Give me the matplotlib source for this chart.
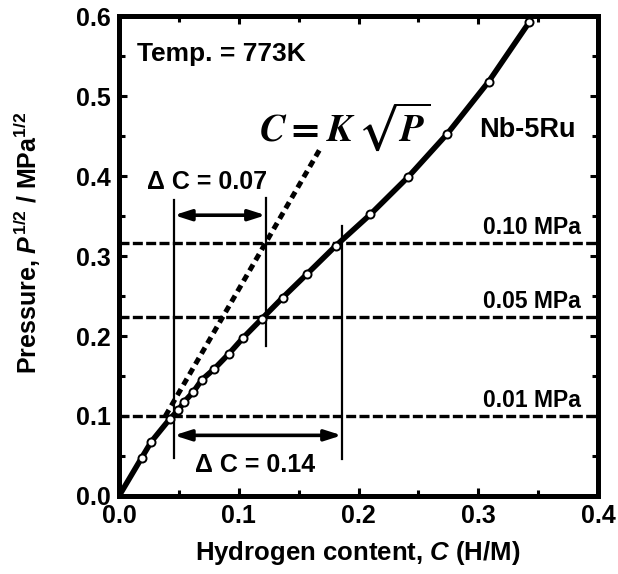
import numpy as np
import matplotlib
matplotlib.use("Agg")
import matplotlib.pyplot as plt

plt.rcParams['font.family'] = ['Liberation Sans', 'DejaVu Sans']
plt.rcParams['font.weight'] = 'bold'
plt.rcParams['mathtext.fontset'] = 'custom'
plt.rcParams['mathtext.rm'] = 'Liberation Sans:bold'
plt.rcParams['mathtext.it'] = 'Liberation Sans:italic:bold'
plt.rcParams['mathtext.bf'] = 'Liberation Sans:bold'
plt.rcParams['mathtext.sf'] = 'Liberation Sans:italic:bold'

# measured isotherm, Nb-5Ru at 773 K
conc = [0.0, 0.019, 0.027, 0.0426, 0.0496, 0.0546, 0.062, 0.069, 0.0796, 0.0916,
        0.1038, 0.1194, 0.1367, 0.157, 0.1812, 0.2099, 0.2416, 0.2743, 0.3087, 0.3427]
sqrt_p = [0.0, 0.048, 0.068, 0.0967, 0.1075, 0.118, 0.130, 0.145, 0.159, 0.1775,
          0.198, 0.2217, 0.248, 0.2775, 0.313, 0.352, 0.399, 0.453, 0.518, 0.5925]

# Sieverts' law line C = K sqrt(P)
K = 0.387
sieverts_y = [0.1, 0.435]

# reference pressures (MPa)
pressures = [0.01, 0.05, 0.10]
press_labels = ['0.01 MPa', '0.05 MPa', '0.10 MPa']

# vertical markers: C value, y from, y to
vlines_c = [0.046, 0.1225, 0.186]
vlines_lo = [0.047, 0.187, 0.046]
vlines_hi = [0.37, 0.3725, 0.338]

# delta C arrows
arrow_from = [0.046, 0.046]
arrow_to = [0.1225, 0.186]
arrow_y = [0.351, 0.0758]
arrow_text = ['\u0394 C = 0.07', '\u0394 C = 0.14']
arrow_text_pos = [(0.0735, 0.3925), (0.114, 0.039)]

fig = plt.figure(figsize=(6.18, 5.74), dpi=100)
ax = fig.add_axes([0.1926, 0.1359, 0.7750, 0.8362])

for p, lab in zip(pressures, press_labels):
    y = np.sqrt(p)
    ax.axhline(y, color='black', lw=2.4, dashes=(3, 1), zorder=2)
    ax.text(0.386, y + 0.005, lab, ha='right', va='bottom', fontsize=16.5, fontweight='bold')

ys = np.array(sieverts_y)
ax.plot(K * ys, ys, color='black', lw=3.6, dashes=(1.4, 1.0), zorder=3)

for c, lo, hi in zip(vlines_c, vlines_lo, vlines_hi):
    ax.plot([c, c], [lo, hi], color='black', lw=1.6, zorder=3)

for a, b, y, t, pos in zip(arrow_from, arrow_to, arrow_y, arrow_text, arrow_text_pos):
    ax.annotate('', xy=(b, y), xytext=(a, y),
                arrowprops=dict(arrowstyle='<|-|>,head_length=1.0,head_width=0.32',
                                color='black', lw=2.6, shrinkA=0, shrinkB=0))
    ax.text(pos[0], pos[1], t, ha='center', va='center', fontsize=18, fontweight='bold')

ax.plot(conc, sqrt_p, color='black', lw=4, zorder=4)
ax.plot(conc[1:], sqrt_p[1:], 'o', ms=5.8, mfc='white', mec='black', mew=1.4, zorder=5)

ax.text(0.015, 0.553, 'Temp. = 773K', ha='left', va='center', fontsize=19, fontweight='bold')
ax.text(0.301, 0.4575, 'Nb-5Ru', ha='left', va='center', fontsize=19.5, fontweight='bold')
ax.text(0.117, 0.462, r'$\mathbfit{C} = \mathbfit{K}\,\sqrt{\mathbfit{P}}$', ha='left', va='center',
        fontsize=28, math_fontfamily='stix')

ax.set_xlim(0, 0.4)
ax.set_ylim(0, 0.6)
ax.set_xticks([0.0, 0.1, 0.2, 0.3, 0.4])
ax.set_yticks([0.0, 0.1, 0.2, 0.3, 0.4, 0.5, 0.6])
ax.set_xticks(np.arange(0.05, 0.4, 0.1), minor=True)
ax.set_yticks(np.arange(0.05, 0.6, 0.1), minor=True)
ax.xaxis.set_major_formatter(matplotlib.ticker.FormatStrFormatter('%.1f'))
ax.yaxis.set_major_formatter(matplotlib.ticker.FormatStrFormatter('%.1f'))
ax.tick_params(which='both', direction='in', top=True, right=True, width=2.2, labelsize=18)
ax.tick_params(which='major', length=6, pad=6)
ax.tick_params(which='minor', length=4)
for lab in ax.get_xticklabels() + ax.get_yticklabels():
    lab.set_fontweight('bold')
for s in ax.spines.values():
    s.set_linewidth(3.6)

fig.text(0.579, 0.036, r'Hydrogen content, $\mathit{C}$ (H/M)', ha='center', va='center',
         fontsize=18.5, fontweight='bold')
fig.text(0.044, 0.577, r'Pressure, $\mathit{P}^{1/2}$ / MPa$^{1/2}$',
         ha='center', va='center', rotation=90, fontsize=18, fontweight='bold')

fig.savefig('out.png', dpi=100)
